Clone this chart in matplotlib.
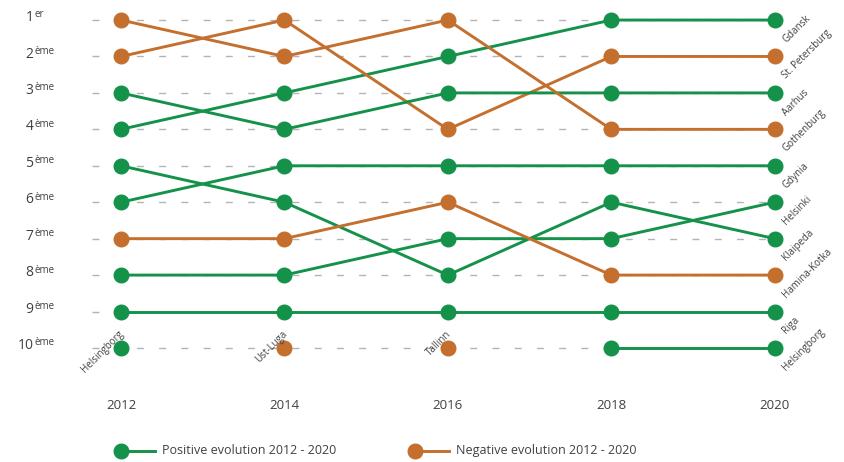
import numpy as np
import matplotlib
matplotlib.use("Agg")
import matplotlib.pyplot as plt

plt.rcParams["font.family"] = ["Open Sans", "DejaVu Sans"]

# donnees : rang de chaque port par annee
years = [2012, 2014, 2016, 2018, 2020]
rank_numbers = [1, 2, 3, 4, 5, 6, 7, 8, 9, 10]
rank_suffix = ["er", "ème", "ème", "ème", "ème", "ème", "ème", "ème", "ème", "ème"]

gdansk = [4, 3, 2, 1, 1]
st_petersburg = [2, 1, 4, 2, 2]
aarhus = [3, 4, 3, 3, 3]
gothenburg = [1, 2, 1, 4, 4]
gdynia = [6, 5, 5, 5, 5]
helsinki = [8, 8, 7, 7, 6]
klaipeda = [5, 6, 8, 6, 7]
hamina_kotka = [7, 7, 6, 8, 8]
riga = [9, 9, 9, 9, 9]
helsingborg = [10, np.nan, np.nan, 10, 10]
ust_luga = [np.nan, 10, np.nan, np.nan, np.nan]
tallinn = [np.nan, np.nan, 10, np.nan, np.nan]

green = "#14924a"
orange = "#c46f2e"
txt = "#404040"

series = [
    ("Gdansk", gdansk, green),
    ("St. Petersburg", st_petersburg, orange),
    ("Aarhus", aarhus, green),
    ("Gothenburg", gothenburg, orange),
    ("Gdynia", gdynia, green),
    ("Helsinki", helsinki, green),
    ("Klaipeda", klaipeda, green),
    ("Hamina-Kotka", hamina_kotka, orange),
    ("Riga", riga, green),
    ("Helsingborg", helsingborg, green),
    ("Ust-Luga", ust_luga, orange),
    ("Tallinn", tallinn, orange),
]

fig = plt.figure(figsize=(8.45, 4.62), dpi=100)
ax = fig.add_axes([0, 0, 1, 1])
ax.set_xlim(2010.52, 2020.86)
ax.set_ylim(13.13, 0.45)
ax.axis("off")

# lignes pointillees grises pour chaque rang
for r in rank_numbers:
    ax.plot([2011.65, 2020], [r, r], color="#b4b4b4", lw=1,
            linestyle=(0, (5, 11)), zorder=1)

for name, vals, col in series:
    ax.plot(years, vals, color=col, lw=2.1, zorder=2)
    ax.plot(years, vals, "o", color=col, markersize=10.5, zorder=3)

# noms des ports a droite (2020)
for name, vals, col in series:
    if not np.isnan(vals[-1]):
        ax.annotate(name, (years[-1], vals[-1]), xytext=(7, -15),
                    textcoords="offset points", rotation=45,
                    rotation_mode="anchor", ha="left", va="center",
                    fontsize=7, color=txt)

# points isoles (pas de ligne) : etiquette en haut a gauche
for name, vals, col in series:
    for i, v in enumerate(vals):
        if not np.isnan(v) and i < len(vals) - 1:
            prev_nan = i == 0 or np.isnan(vals[i - 1])
            next_nan = np.isnan(vals[i + 1])
            if prev_nan and next_nan:
                ax.annotate(name, (years[i], v), xytext=(1, 11),
                            textcoords="offset points", rotation=45,
                            rotation_mode="anchor", ha="right", va="center",
                            fontsize=7, color=txt)

# labels des rangs (chiffre + exposant)
for r, suf in zip(rank_numbers, rank_suffix):
    ax.text(2010.93, r + 0.03, str(r), ha="right", va="baseline",
            fontsize=10, color=txt)
    ax.text(2010.945, r - 0.07, suf, ha="left", va="baseline",
            fontsize=7, color=txt)

# annees
for y in years:
    ax.text(y, 11.58, str(y), ha="center", va="center", fontsize=9.5, color=txt)

# legende faite a la main
for x0, col, lab in [(2012.0, green, "Positive evolution 2012 - 2020"),
                     (2015.6, orange, "Negative evolution 2012 - 2020")]:
    ax.plot([x0, x0 + 0.42], [12.82, 12.82], color=col, lw=2.1, zorder=2)
    ax.plot([x0], [12.82], "o", color=col, markersize=10.5, zorder=3)
    ax.text(x0 + 0.5, 12.82, lab, ha="left", va="center", fontsize=9, color=txt)

plt.savefig("out.png", dpi=100)
